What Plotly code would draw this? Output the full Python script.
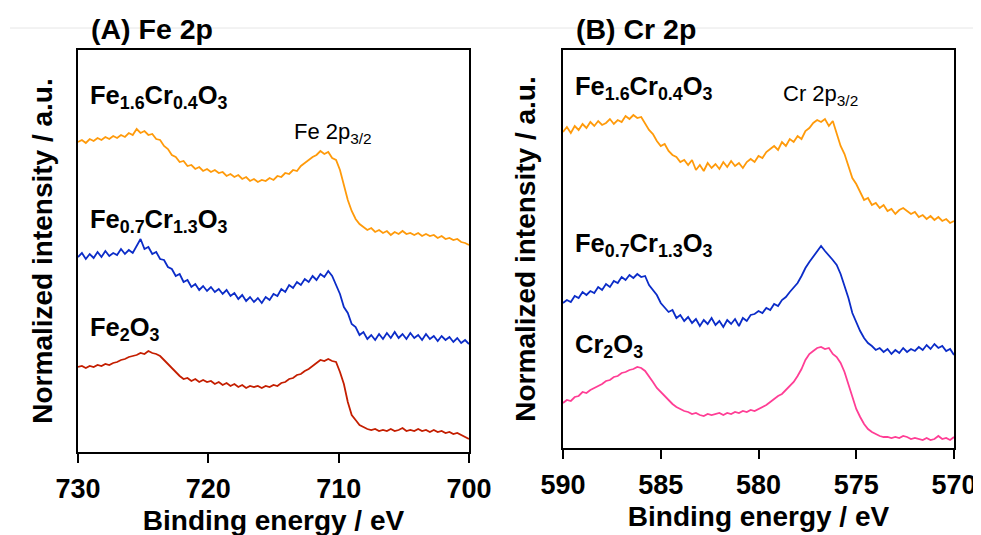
import numpy as np
import plotly.graph_objects as go

# ---------------- data ----------------
fe_energy = np.round(np.linspace(730, 700, 101), 2)   # Fe 2p binding energy grid (eV), 0.3 eV step
cr_energy = np.round(np.linspace(590, 570, 101), 2)   # Cr 2p binding energy grid (eV), 0.2 eV step

fe_Fe16Cr04 = [310, 312, 309, 313, 311, 314, 312, 315, 313, 316, 314, 317, 315, 319, 317, 323, 319, 321, 317, 318,
               313, 312, 306, 303, 297, 295, 290, 291, 286, 287, 283, 285, 281, 283, 280, 282, 279, 280, 276, 278,
               275, 277, 273, 275, 271, 273, 270, 272, 271, 274, 272, 276, 275, 279, 278, 282, 281, 286, 289, 292,
               295, 297, 301, 298, 300, 294, 292, 282, 268, 252, 241, 233, 228, 225, 222, 224, 220, 222, 219, 221,
               217, 220, 218, 221, 218, 219, 217, 219, 216, 218, 216, 217, 214, 216, 213, 214, 212, 213, 210, 209, 207]

fe_Fe07Cr13 = [195, 199, 193, 198, 194, 200, 195, 201, 196, 199, 197, 203, 198, 202, 199, 206, 213, 203, 205, 198,
               200, 193, 192, 185, 183, 176, 178, 170, 172, 165, 168, 162, 166, 161, 165, 160, 163, 158, 162, 156,
               159, 153, 157, 151, 155, 150, 154, 149, 155, 152, 158, 156, 163, 160, 167, 164, 170, 167, 173, 170,
               176, 172, 178, 175, 181, 176, 166, 158, 145, 139, 128, 125, 117, 120, 113, 117, 112, 118, 113, 119,
               114, 120, 114, 118, 113, 119, 114, 117, 112, 118, 113, 116, 111, 116, 112, 115, 110, 114, 109, 112, 108]

fe_Fe2O3 = [85, 86, 84, 86, 85, 87, 86, 88, 87, 89, 90, 92, 93, 95, 96, 97, 99, 98, 101, 99,
            98, 96, 92, 88, 83, 80, 76, 73, 74, 71, 73, 70, 72, 70, 71, 68, 70, 67, 69, 66,
            68, 65, 67, 64, 66, 65, 66, 64, 66, 65, 67, 66, 69, 70, 73, 74, 77, 78, 81, 83,
            86, 89, 92, 91, 93, 91, 90, 80, 68, 50, 37, 32, 27, 25, 23, 22, 23, 21, 22, 21,
            23, 21, 22, 24, 21, 22, 21, 23, 21, 22, 20, 22, 20, 21, 19, 20, 18, 19, 17, 15, 13]

cr_Fe16Cr04 = [316, 321, 315, 322, 318, 324, 320, 326, 322, 327, 323, 325, 329, 324, 328, 326, 332, 329, 333, 330,
               331, 324, 318, 314, 307, 302, 304, 297, 293, 291, 286, 288, 283, 288, 278, 283, 277, 285, 280, 284,
               279, 286, 281, 287, 282, 285, 280, 286, 289, 286, 292, 290, 296, 299, 302, 298, 306, 302, 309, 306,
               312, 309, 317, 320, 325, 328, 326, 329, 322, 327, 314, 302, 294, 282, 270, 264, 256, 248, 250, 243,
               245, 240, 243, 237, 239, 234, 238, 240, 237, 234, 236, 231, 233, 229, 232, 228, 231, 227, 229, 225, 227]

cr_Fe07Cr13 = [145, 148, 146, 152, 150, 156, 153, 157, 155, 161, 158, 164, 161, 167, 165, 171, 168, 173, 170, 174,
               171, 172, 163, 158, 153, 145, 141, 136, 138, 130, 133, 127, 131, 125, 129, 122, 128, 124, 130, 123,
               127, 121, 128, 124, 129, 122, 130, 127, 133, 134, 137, 135, 140, 138, 144, 142, 148, 151, 156, 161,
               165, 172, 180, 186, 191, 196, 202, 197, 193, 188, 183, 174, 162, 150, 135, 125, 117, 110, 105, 102,
               98, 100, 96, 99, 94, 98, 95, 100, 96, 99, 97, 101, 98, 103, 99, 104, 100, 102, 97, 99, 93]

cr_Cr2O3 = [45, 48, 47, 51, 52, 56, 55, 58, 60, 62, 64, 67, 68, 71, 72, 75, 76, 78, 79, 81,
            80, 77, 72, 66, 60, 56, 52, 47, 44, 41, 39, 37, 36, 34, 35, 33, 32, 34, 33, 34,
            35, 33, 35, 34, 36, 35, 37, 36, 38, 37, 39, 41, 43, 46, 49, 52, 54, 58, 61, 66,
            72, 79, 88, 94, 97, 100, 101, 99, 100, 94, 91, 85, 76, 64, 50, 39, 31, 24, 19, 16,
            14, 12, 11, 11, 10, 11, 10, 12, 11, 9, 10, 9, 8, 10, 8, 9, 12, 9, 10, 8, 11]

fe_ticks = [730, 720, 710, 700]
cr_ticks = [590, 585, 580, 575, 570]

# ---------------- styling ----------------
W, H = 981, 535
OFF = 8  # page body margin offset compensation
FONT = "Arial, Liberation Sans, sans-serif"
ORANGE = "#FF9A0A"
BLUE = "#0B2CC8"
RED = "#C41E00"
PINK = "#FF3E95"


def px_x(x):
    return (x - OFF) / W


def px_y(y):
    return 1 - (y - OFF) / H


fig = go.Figure()

LW = 1.8
fig.add_trace(go.Scatter(x=fe_energy, y=fe_Fe16Cr04, mode="lines", line=dict(color=ORANGE, width=LW),
                         xaxis="x", yaxis="y", showlegend=False))
fig.add_trace(go.Scatter(x=fe_energy, y=fe_Fe07Cr13, mode="lines", line=dict(color=BLUE, width=LW),
                         xaxis="x", yaxis="y", showlegend=False))
fig.add_trace(go.Scatter(x=fe_energy, y=fe_Fe2O3, mode="lines", line=dict(color=RED, width=LW),
                         xaxis="x", yaxis="y", showlegend=False))
fig.add_trace(go.Scatter(x=cr_energy, y=cr_Fe16Cr04, mode="lines", line=dict(color=ORANGE, width=LW),
                         xaxis="x2", yaxis="y2", showlegend=False))
fig.add_trace(go.Scatter(x=cr_energy, y=cr_Fe07Cr13, mode="lines", line=dict(color=BLUE, width=LW),
                         xaxis="x2", yaxis="y2", showlegend=False))
fig.add_trace(go.Scatter(x=cr_energy, y=cr_Cr2O3, mode="lines", line=dict(color=PINK, width=LW),
                         xaxis="x2", yaxis="y2", showlegend=False))

xcommon = dict(showline=True, linecolor="black", linewidth=2, mirror=True, ticks="outside",
               ticklen=9, tickwidth=2, tickcolor="black", showgrid=False, zeroline=False, automargin=False,
               ticklabelstandoff=3,
               tickfont=dict(family=FONT, size=27, color="black", weight="bold"),
               title=dict(text="<b>Binding energy / eV</b>", font=dict(family=FONT, size=28, color="black"),
                          standoff=7))
ycommon_base = dict(showline=True, linecolor="black", linewidth=2, mirror=True, ticks="",
                    showticklabels=False, showgrid=False, zeroline=False, automargin=False)
ytitle_font = dict(family=FONT, size=28, color="black")

fig.update_layout(
    template="none",
    width=W, height=H,
    margin=dict(l=0, r=0, t=0, b=0, autoexpand=False),
    paper_bgcolor="white", plot_bgcolor="white",
    xaxis=dict(domain=[px_x(78), px_x(469)], range=[730, 700], tickvals=fe_ticks, anchor="y", **xcommon),
    yaxis=dict(domain=[px_y(452), px_y(50)], range=[0, 402], anchor="x",
               title=dict(text="<b>Normalized intensity / a.u.</b>", font=ytitle_font, standoff=15),
               **ycommon_base),
    xaxis2=dict(domain=[px_x(563), px_x(954)], range=[590, 570], tickvals=cr_ticks, anchor="y2", **xcommon),
    yaxis2=dict(domain=[px_y(448), px_y(50)], range=[0, 398], anchor="x2",
                title=dict(text="<b>Normalized intensity / a.u.</b>", font=ytitle_font, standoff=17),
                **ycommon_base),
)

# faint horizontal rule at the top
fig.add_shape(type="line", xref="paper", yref="paper", x0=px_x(10), x1=1, y0=px_y(28), y1=px_y(28),
              line=dict(color="#e6e6e6", width=1), layer="below")


def label(x, y, text, size=25.5, bold=True):
    fig.add_annotation(xref="paper", yref="paper", x=px_x(x), y=px_y(y), xanchor="left", yanchor="middle",
                       text=("<b>%s</b>" % text) if bold else text, showarrow=False,
                       font=dict(family=FONT, size=size, color="black"))


label(89, 29, "(A) Fe 2p", size=28.5)
label(574, 29, "(B) Cr 2p", size=28.5)

label(88, 97, "Fe<sub>1.6</sub>Cr<sub>0.4</sub>O<sub>3</sub>")
label(88, 221, "Fe<sub>0.7</sub>Cr<sub>1.3</sub>O<sub>3</sub>")
label(88, 329, "Fe<sub>2</sub>O<sub>3</sub>")
label(292, 133, "Fe 2p<sub>3/2</sub>", size=22, bold=False)

label(573, 88, "Fe<sub>1.6</sub>Cr<sub>0.4</sub>O<sub>3</sub>")
label(573, 245, "Fe<sub>0.7</sub>Cr<sub>1.3</sub>O<sub>3</sub>")
label(573, 346, "Cr<sub>2</sub>O<sub>3</sub>")
label(781, 95, "Cr 2p<sub>3/2</sub>", size=22, bold=False)

fig.write_html("out.html")
